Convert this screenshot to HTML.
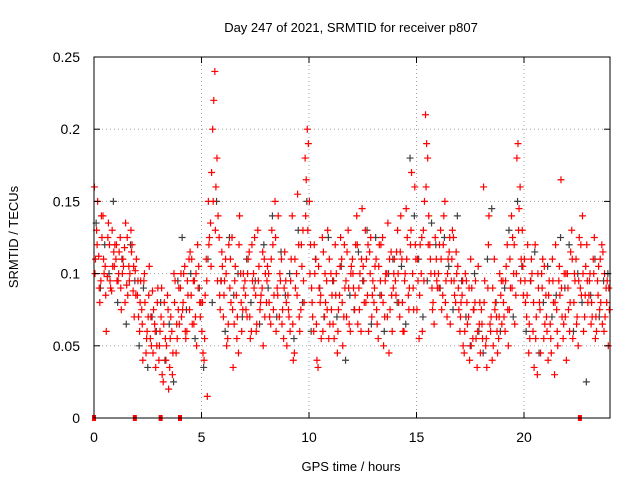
<!DOCTYPE html>
<html><head><meta charset="utf-8"><style>
body{margin:0;background:#fff}
svg{display:block;font-family:"Liberation Sans",sans-serif}
</style></head><body>
<svg id="chart" width="640" height="480" viewBox="0 0 640 480">
<rect width="640" height="480" fill="#fff"/>
<text x="351" y="32" font-size="13" text-anchor="middle">Day 247 of 2021, SRMTID for receiver p807</text>
<text x="351" y="471" font-size="13" text-anchor="middle">GPS time / hours</text>
<text transform="translate(18,237) rotate(-90)" font-size="13" text-anchor="middle">SRMTID / TECUs</text>
<g id="grid"></g>
<g id="marks"></g>
<rect x="94" y="57" width="516" height="361" fill="none" stroke="#000" stroke-width="1"/>
<g id="ticks"></g>
</svg>
<script>
const xTicks=[0,5,10,15,20];
const yTicks=[0,0.05,0.1,0.15,0.2,0.25];
const yTickLabels=["0","0.05","0.1","0.15","0.2","0.25"];
const red1=[160,130,112,95,140,105,98,120,88,115,110,95,125,100,118,92,105,130,88,102,85,60,75,95,45,70,55,88,65,50,40,70,25,55,85,35,60,100,45,75,90,75,105,60,110,85,95,70,120,80,60,40,110,150,135,200,240,180,125,95,70,110,55,90,125,65,85,45,100,75,95,70,115,60,100,85,130,75,90,110,80,100,65,120,150,90,70,110,55,95,85,60,140,45,100,120,75,130,180,200,150,90,60,110,35,80,125,70,95,55,100,65,120,45,85,110,70,95,130,60,110,75,140,90,60,105,130,85,115,70,80,110,55,95,125,70,100,45,115,90,95,130,70,110,60,145,85,120,100,160,75,55,100,130,210,180,120,90,65,110,100,130,85,150,70,115,95,125,80,105,60,85,45,95,70,110,55,80,35,65,75,160,50,90,65,40,110,70,55,85,95,60,120,75,140,100,85,190,160,130,110,70,45,95,60,120,30,80,100,55,85,40,65,110,30,75,95,165,55,70,100,60,130,80,110,50,90,140,70,120,85,65,110,55,95,75,120,60,90,50];
const red2=[110,150,80,125,100,60,135,90,105,120,95,115,75,105,135,85,100,120,70,110,70,95,40,80,60,105,50,75,35,90,60,30,80,50,20,70,45,95,55,65,70,100,55,85,115,65,95,50,105,80,45,85,15,125,170,220,160,140,75,105,95,50,120,80,35,105,70,140,60,90,75,110,55,95,125,65,105,85,50,100,105,70,130,85,60,140,95,75,115,50,70,110,40,90,155,60,105,80,165,190,120,70,100,40,90,55,115,80,130,65,85,55,100,75,125,50,90,115,65,105,90,120,65,100,145,80,110,60,125,95,105,65,120,85,50,100,135,75,60,110,115,80,140,60,100,125,90,170,75,110,95,120,60,150,190,140,100,80,125,90,120,75,140,95,110,65,130,85,100,75,80,50,100,65,40,90,75,55,105,45,55,95,35,140,70,50,80,45,100,65,70,105,50,90,125,65,180,145,110,85,80,120,55,100,35,70,90,45,110,65,60,95,45,80,120,50,85,70,100,40,75,115,55,95,70,125,85,60,105,80,100,70,125,60,105,80,115,70,95,75];
const red3=[100,120,90,140,110,85,125,95,130,105,120,100,90,110,80,125,95,115,105,85,95,80,65,100,55,85,70,45,60,80,50,90,65,40,75,55,30,80,65,90,100,80,60,95,75,110,65,100,90,70,80,55,95,120,105,150,130,95,85,115,85,100,65,110,75,95,55,120,80,100,85,100,70,120,90,60,95,80,115,70,95,80,110,75,125,85,100,65,90,80,75,95,65,110,85,70,120,95,140,130,100,80,120,65,105,85,60,100,75,110,75,95,85,60,105,80,120,70,90,100,100,85,120,75,110,95,80,120,100,85,90,75,105,120,80,95,70,110,85,100,85,100,115,80,95,110,75,130,90,120,110,85,125,95,160,120,110,75,100,95,90,110,120,80,100,125,110,95,115,90,70,95,60,80,90,50,75,95,60,80,65,80,55,120,60,90,75,60,70,95,80,95,75,110,90,120,100,130,95,105,95,85,65,110,80,55,100,75,90,105,70,85,55,95,80,60,105,90,65,100,90,80,110,100,65,95,120,100,85,95,95,80,100,70,85,110,65,100,80,90];
const gray=[135,90,120,100,150,80,110,65,120,95,50,90,35,70,60,80,40,65,25,95,125,75,100,55,90,35,110,80,150,95,60,125,85,100,70,110,80,95,65,120,90,140,70,115,85,100,55,130,80,150,60,110,90,70,125,95,70,105,40,85,75,115,95,130,65,125,85,60,100,110,80,105,65,180,140,110,70,95,135,120,90,125,105,75,140,95,70,50,100,60,45,110,145,80,60,90,130,70,150,105,60,95,115,45,80,105,70,85,125,90,120,60,100,80,25,85,110,70,95,100];
const zeroFlags=[0,1.9,3.1,4.0,22.6];
const X0=94,X1=610,Y0=418,Y1=57;
const sx=t=>X0+(X1-X0)*t/24;
const sy=v=>Y0-(Y0-Y1)*v/0.25;
const NS="http://www.w3.org/2000/svg";
const grid=document.getElementById('grid'),marks=document.getElementById('marks'),ticks=document.getElementById('ticks');
function mk(tag,attrs,parent){const e=document.createElementNS(NS,tag);for(const k in attrs)e.setAttribute(k,attrs[k]);parent.appendChild(e);return e;}
xTicks.forEach(t=>{
 const x=sx(t);
 if(t>0){const g=mk('line',{x1:x,x2:x,y1:Y0,y2:Y1,stroke:'#a0a0a0','stroke-dasharray':'1,3'},grid);
 
 }
 mk('line',{x1:x,x2:x,y1:Y0,y2:Y0-6,stroke:'#000'},ticks);
 mk('line',{x1:x,x2:x,y1:Y1,y2:Y1+6,stroke:'#000'},ticks);
 const l=mk('text',{x:x,y:Y0+24,'font-size':14,'text-anchor':'middle'},ticks);l.textContent=t;
 
 
});
yTicks.forEach((v,i)=>{
 const y=sy(v);
 if(v>0&&v<0.25){const g=mk('line',{x1:X0,x2:X1,y1:y,y2:y,stroke:'#a0a0a0','stroke-dasharray':'1,3'},grid);
 
 }
 mk('line',{x1:X0,x2:X0+6,y1:y,y2:y,stroke:'#000'},ticks);
 mk('line',{x1:X1,x2:X1-6,y1:y,y2:y,stroke:'#000'},ticks);
 const l=mk('text',{x:X0-14,y:y+5,'font-size':14,'text-anchor':'end'},ticks);l.textContent=yTickLabels[i];
 
 
});
function plus(t,v,color){
 const x=sx(t),y=sy(v);
 const p=mk('path',{d:`M${x-3.5} ${y}H${x+3.5}M${x} ${y-3.5}V${y+3.5}`,stroke:color,'stroke-width':1.2,fill:'none'},marks);
 
 
}
gray.forEach((v,i)=>plus(i*0.2+0.1,v/1000,'#404040'));
red1.forEach((v,i)=>plus(i*0.1+0.02,v/1000,'#ff0000'));
red2.forEach((v,i)=>plus(i*0.1+0.07,v/1000,'#ff0000'));
red3.forEach((v,i)=>plus(i*0.1+0.045,v/1000,'#ff0000'));
zeroFlags.forEach(t=>{
 const r=mk('rect',{x:sx(t)-2,y:Y0-3,width:4,height:6,fill:'#ff0000'},marks);
 
 
});
</script>
</body></html>
